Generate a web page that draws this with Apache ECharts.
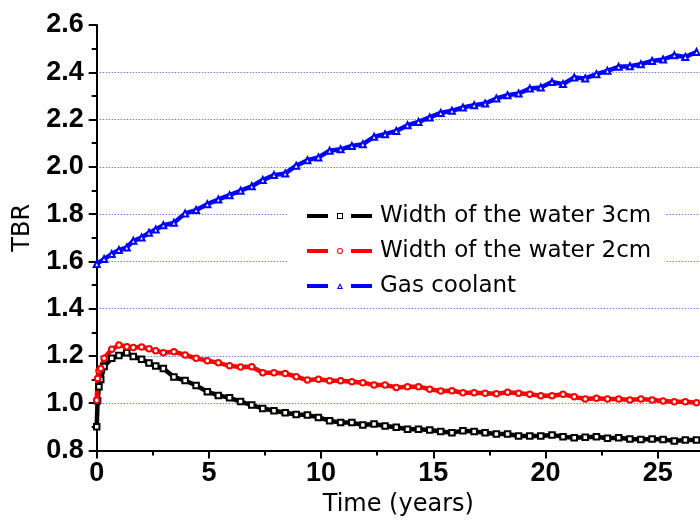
<!DOCTYPE html>
<html>
<head>
<meta charset="utf-8">
<title>TBR vs time</title>
<script src="https://cdn.jsdelivr.net/npm/echarts@6/dist/echarts.min.js"></script>
<style>
  html, body { margin: 0; padding: 0; background: #fff; }
  #chart { width: 700px; height: 520px; }
</style>
</head>
<body>
<div id="chart"></div>
<script>
// Sampling times (years) for the two water-cooled cases
const timesWater = [0, 0.04, 0.1, 0.18, 0.33, 0.67, 0.99, 1.34, 1.63, 2.0, 2.33, 2.63, 2.97,
  3.44, 3.94, 4.43, 4.93, 5.42, 5.92, 6.41, 6.91, 7.40, 7.90, 8.40, 8.89, 9.39, 9.88,
  10.38, 10.87, 11.37, 11.86, 12.36, 12.85, 13.35, 13.85, 14.34, 14.84, 15.33, 15.83,
  16.32, 16.82, 17.31, 17.81, 18.31, 18.80, 19.30, 19.79, 20.29, 20.78, 21.28, 21.77,
  22.27, 22.76, 23.26, 23.76, 24.25, 24.75, 25.24, 25.74, 26.23, 26.73];

// Sampling times (years) for the gas-cooled case
const timesGas = [0, 0.33, 0.67, 0.99, 1.34, 1.63, 2.0, 2.33, 2.63, 2.97,
  3.44, 3.94, 4.43, 4.93, 5.42, 5.92, 6.41, 6.91, 7.40, 7.90, 8.40, 8.89, 9.39, 9.88,
  10.38, 10.87, 11.37, 11.86, 12.36, 12.85, 13.35, 13.85, 14.34, 14.84, 15.33, 15.83,
  16.32, 16.82, 17.31, 17.81, 18.31, 18.80, 19.30, 19.79, 20.29, 20.78, 21.28, 21.77,
  22.27, 22.76, 23.26, 23.76, 24.25, 24.75, 25.24, 25.74, 26.23, 26.73];

const tbrWater3cm = [0.90, 1.01, 1.07, 1.10, 1.155, 1.19, 1.202, 1.213, 1.198, 1.186, 1.170, 1.157, 1.147,
  1.111, 1.096, 1.075, 1.049, 1.033, 1.023, 1.007, 0.992, 0.978, 0.968, 0.960, 0.952,
  0.950, 0.940, 0.926, 0.918, 0.918, 0.908, 0.912, 0.904, 0.898, 0.890, 0.890, 0.887,
  0.880, 0.875, 0.884, 0.880, 0.875, 0.870, 0.870, 0.861, 0.861, 0.861, 0.866, 0.858,
  0.854, 0.856, 0.858, 0.852, 0.854, 0.849, 0.847, 0.849, 0.847, 0.840, 0.844, 0.844];

const tbrWater2cm = [1.013, 1.105, 1.137, 1.147, 1.19, 1.228, 1.246, 1.239, 1.236, 1.238, 1.230, 1.222, 1.214,
  1.218, 1.204, 1.190, 1.180, 1.171, 1.158, 1.153, 1.154, 1.129, 1.129, 1.126, 1.112,
  1.098, 1.101, 1.095, 1.095, 1.091, 1.087, 1.077, 1.077, 1.067, 1.070, 1.070, 1.059,
  1.052, 1.053, 1.044, 1.044, 1.042, 1.040, 1.046, 1.042, 1.038, 1.032, 1.032, 1.038,
  1.027, 1.018, 1.021, 1.018, 1.018, 1.014, 1.018, 1.014, 1.009, 1.006, 1.006, 1.002];

const tbrGas = [1.589, 1.610, 1.631, 1.648, 1.659, 1.687, 1.701, 1.721, 1.735, 1.753,
  1.763, 1.803, 1.817, 1.842, 1.862, 1.880, 1.899, 1.918, 1.944, 1.965, 1.972, 2.005,
  2.028, 2.040, 2.068, 2.074, 2.088, 2.096, 2.127, 2.138, 2.152, 2.176, 2.190, 2.209,
  2.228, 2.237, 2.251, 2.261, 2.268, 2.289, 2.303, 2.310, 2.331, 2.336, 2.359, 2.350,
  2.378, 2.374, 2.392, 2.406, 2.423, 2.426, 2.434, 2.448, 2.454, 2.472, 2.465, 2.486];

const seriesNames = ['Width of the water 3cm', 'Width of the water 2cm', 'Gas coolant'];
const seriesColors = ['#000000', '#ff0000', '#0000ff'];

function pairs(xs, ys) {
  return xs.map((x, i) => [x, ys[i]]);
}

// Legend keys: line - hollow marker - line
const iconSquare = 'path://M0,1H21V5H0Z M44,1H65V5H44Z M30,0H36V6H30Z M31,1V5H35V1Z';
const iconCircle = 'path://M0,1H21V5H0Z M44,1H65V5H44Z M30,3A3,3 0 1,0 36,3A3,3 0 1,0 30,3Z M31,3A2,2 0 1,1 35,3A2,2 0 1,1 31,3Z';
const iconTriangle = 'path://M0,1H21V5H0Z M44,1H65V5H44Z M30,6L33,0L36,6Z M31.7,5.1L34.3,5.1L33,2.5Z';

const chart = echarts.init(document.getElementById('chart'), null, { renderer: 'canvas' });

const tickLine = { color: '#000', width: 2 };

// The time axis runs to 30 years but the plot area is wider than the page,
// so the visible part ends a little before 27 years.
chart.setOption({
  animation: false,
  backgroundColor: '#fff',
  grid: {
    left: 96.7, top: 25, width: 673.2, height: 425.5,
    containLabel: false, outerBoundsMode: 'none'
  },
  xAxis: {
    type: 'value',
    min: 0, max: 30, interval: 5,
    name: 'Time (years)',
    nameLocation: 'middle',
    nameGap: 37,
    nameTextStyle: { fontFamily: 'DejaVu Sans', fontSize: 24, color: '#000', padding: [0, 70, 0, 0] },
    axisLine: { show: true, onZero: false, lineStyle: tickLine },
    axisTick: { show: true, inside: false, length: 8, lineStyle: tickLine },
    minorTick: { show: true, splitNumber: 2, length: 5, lineStyle: tickLine },
    axisLabel: { margin: 10, fontFamily: 'Liberation Sans', fontWeight: 'bold', fontSize: 27, color: '#000' },
    splitLine: { show: false }
  },
  yAxis: {
    type: 'value',
    min: 0.8, max: 2.6, interval: 0.2,
    name: 'TBR',
    nameLocation: 'middle',
    nameGap: 62,
    nameRotate: 90,
    nameTextStyle: { fontFamily: 'DejaVu Sans', fontSize: 24, color: '#000', padding: [0, 0, 0, 20] },
    axisLine: { show: true, lineStyle: tickLine },
    axisTick: { show: true, inside: false, length: 8, lineStyle: tickLine },
    minorTick: { show: true, splitNumber: 2, length: 5, lineStyle: tickLine },
    axisLabel: {
      margin: 13, fontFamily: 'Liberation Sans', fontWeight: 'bold', fontSize: 27, color: '#000',
      formatter: v => v.toFixed(1)
    },
    splitLine: {
      show: true, showMinLine: false, showMaxLine: false,
      lineStyle: { color: '#3a3aff', width: 1, type: [1, 2] }
    }
  },
  legend: {
    orient: 'vertical',
    left: 287, top: 195,
    padding: [8, 14, 6, 20],
    backgroundColor: '#fff',
    itemWidth: 65, itemHeight: 6, itemGap: 9,
    textStyle: { fontFamily: 'DejaVu Sans', fontSize: 23, color: '#000', lineHeight: 26, padding: [0, 0, 0, 3] },
    data: [
      { name: seriesNames[0], icon: iconSquare, itemStyle: { color: seriesColors[0], borderWidth: 0 } },
      { name: seriesNames[1], icon: iconCircle, itemStyle: { color: seriesColors[1], borderWidth: 0 } },
      { name: seriesNames[2], icon: iconTriangle, itemStyle: { color: seriesColors[2], borderWidth: 0 } }
    ]
  },
  series: [
    {
      name: seriesNames[0], type: 'line', data: pairs(timesWater, tbrWater3cm),
      symbol: 'emptyRect', symbolSize: 5.5, showAllSymbol: true,
      lineStyle: { color: seriesColors[0], width: 4.5 },
      itemStyle: { color: seriesColors[0], borderWidth: 1.2 }
    },
    {
      name: seriesNames[1], type: 'line', data: pairs(timesWater, tbrWater2cm),
      symbol: 'emptyCircle', symbolSize: 5.5, showAllSymbol: true,
      lineStyle: { color: seriesColors[1], width: 4.5 },
      itemStyle: { color: seriesColors[1], borderWidth: 1.2 }
    },
    {
      name: seriesNames[2], type: 'line', data: pairs(timesGas, tbrGas),
      symbol: 'emptyTriangle', symbolSize: 6, showAllSymbol: true,
      lineStyle: { color: seriesColors[2], width: 4.5 },
      itemStyle: { color: seriesColors[2], borderWidth: 1.2 }
    }
  ]
});
</script>
</body>
</html>
